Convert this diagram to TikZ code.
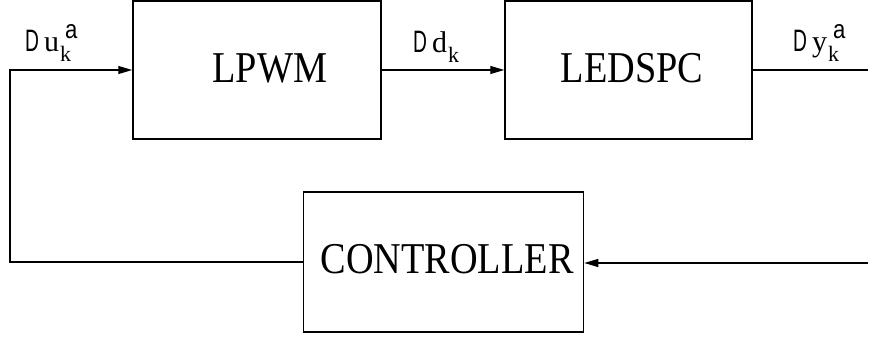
\documentclass[tikz,border=0pt]{standalone}
\usepackage{fontspec}
\setmainfont[FakeStretch=0.87]{Liberation Serif}
\newfontfamily\labsansf[FakeStretch=0.62]{Liberation Sans}
\newfontfamily\labseriff{Liberation Serif}
\newfontfamily\labsupf[FakeStretch=0.85]{Liberation Sans}
\usetikzlibrary{arrows.meta}
\newcommand{\mylab}[2]{%
  {\labsansf\fontsize{31}{32}\selectfont D}\hspace{5pt}%
  {\labseriff\fontsize{30}{32}\selectfont #1}\hspace{1pt}%
  \makebox[0pt][l]{\raisebox{-10pt}{\labseriff\fontsize{22}{24}\selectfont k}}%
  \hspace{5pt}\raisebox{13pt}{\labsupf\fontsize{26}{28}\selectfont #2}}
\begin{document}
\begin{tikzpicture}[x=1pt,y=-1pt,
  blk/.style={draw,line width=1.5pt,inner sep=0pt},
  wire/.style={line width=1.2pt},
  arr/.style={wire,-{Triangle[length=14pt,width=8pt]}},
  lab/.style={anchor=base west,inner sep=0pt}]
\useasboundingbox (0,0) rectangle (869,339);
\node[blk,minimum width=248pt,minimum height=138pt] (lpwm) at (257,70) {};
\node at (270,68) (lpwmt) {\fontsize{44}{46}\selectfont LPWM};
\node[blk,minimum width=247pt,minimum height=138pt] (led) at (628.5,70) {};
\node at (632,68) (ledt) {\fontsize{44}{46}\selectfont LEDSPC};
\node[blk,minimum width=280pt,minimum height=140pt] (ctrl) at (443.5,262) {};
\node at (447,259) (ctrlt) {\fontsize{44}{46}\selectfont CONTROLLER};
\coordinate (inL) at (10,70);
\coordinate (outR) at (868,70);
\coordinate (fbR) at (868,263);
\draw[arr] (ctrl.west) -| (inL) -- (lpwm.west);
\draw[arr] (lpwm.east) -- (led.west);
\draw[wire] (led.east) -- (outR);
\draw[arr] (fbR) -- (fbR -| ctrl.east);
\node[lab] (l1) at (25,52) {\mylab{u}{a}};
\node[lab] (l2) at (413,53) {\mylab{d}{}};
\node[lab] (l3) at (793,52) {\mylab{y}{a}};
\end{tikzpicture}
\end{document}
